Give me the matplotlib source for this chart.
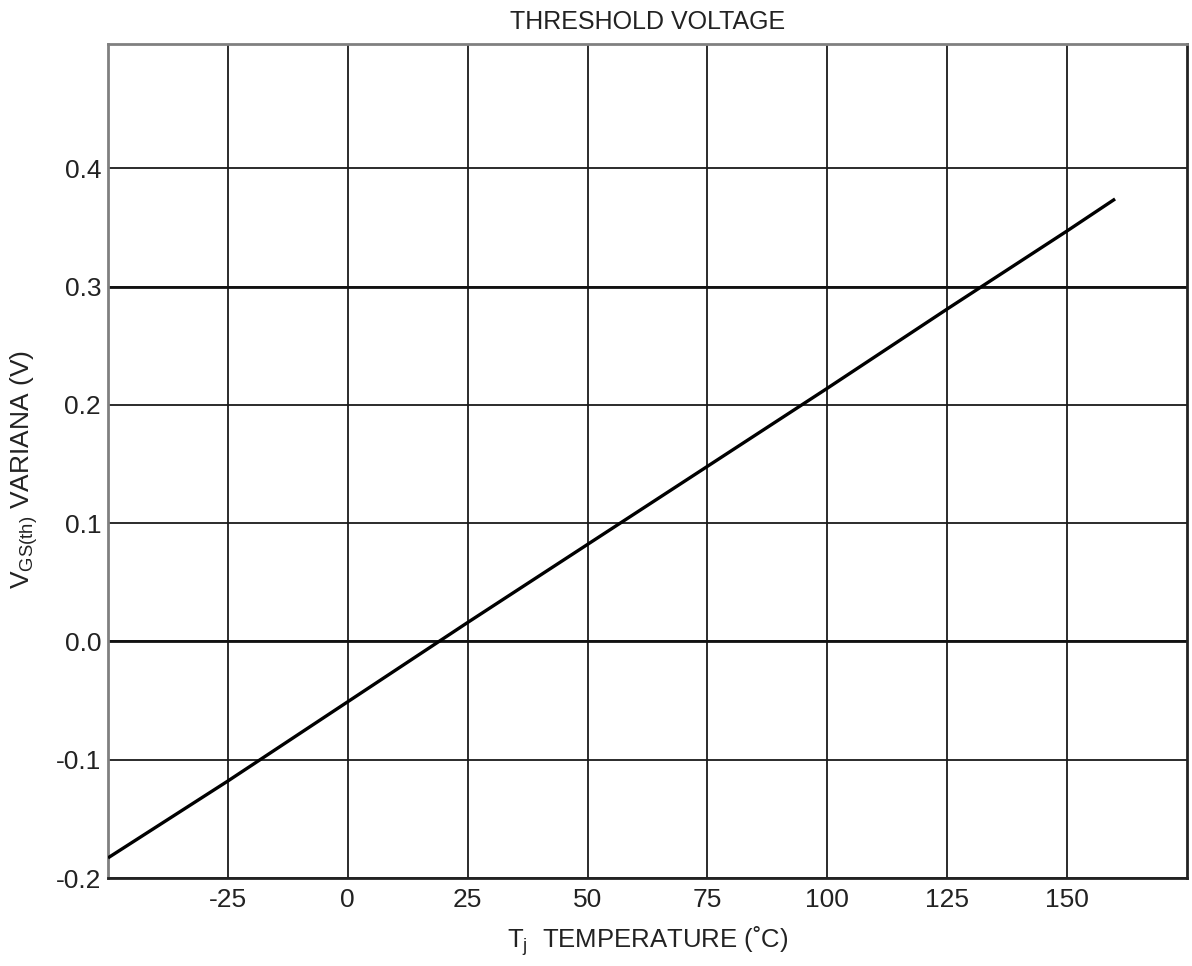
import matplotlib
matplotlib.use("Agg")
import matplotlib.pyplot as plt

plt.rcParams['font.family'] = ['Liberation Sans', 'DejaVu Sans']
plt.rcParams['mathtext.fontset'] = 'custom'
plt.rcParams['mathtext.rm'] = 'Liberation Sans'

# Datos
temperatura = [-50, -25, 0, 25, 50, 75, 100, 125, 150, 160]
vgs_var = [-0.183, -0.118, -0.051, 0.016, 0.082, 0.148, 0.214, 0.281, 0.347, 0.374]

xticks = [-25, 0, 25, 50, 75, 100, 125, 150]
xtick_labels = ['-25', '0', '25', '50', '75', '100', '125', '150']
yticks = [-0.2, -0.1, 0.0, 0.1, 0.2, 0.3, 0.4]
ytick_labels = ['-0.2', '-0.1', '0.0', '0.1', '0.2', '0.3', '0.4']

fig = plt.figure(figsize=(11.92, 9.66), dpi=100)
ax = fig.add_axes([108 / 1192, 1 - 878 / 966, (1187 - 108) / 1192, (878 - 44) / 966])

ax.plot(temperatura, vgs_var, color='black', lw=2.4, solid_capstyle='butt', zorder=3)

ax.set_xlim(-50, 175)
ax.set_ylim(-0.2, 0.505)
ax.set_xticks(xticks)
ax.set_xticklabels(xtick_labels)
ax.set_yticks(yticks)
ax.set_yticklabels(ytick_labels)
ax.tick_params(length=0, labelsize=19, colors='#222222')
ax.tick_params(axis='y', pad=5)
ax.tick_params(axis='x', pad=7)

ax.grid(True, color='#1a1a1a', lw=1.3)
for yy in [0.3, 0.0]:
    ax.axhline(yy, color='#111111', lw=2.0, zorder=2)
ax.set_axisbelow(True)

for s in ['top', 'left']:
    ax.spines[s].set_color('#808080')
    ax.spines[s].set_linewidth(2)
for s in ['bottom', 'right']:
    ax.spines[s].set_color('#222222')
    ax.spines[s].set_linewidth(2)

ax.set_title('THRESHOLD VOLTAGE', fontsize=18, color='#222222', pad=11)
ax.set_xlabel(r'T$_{\mathregular{j}}$  TEMPERATURE (˚C)', fontsize=18.5, color='#222222')
ax.xaxis.set_label_coords(0.5, -0.055)
ax.set_ylabel(r'V$_{\mathregular{GS(th)}}$ VARIANA (V)', fontsize=19, color='#222222')
ax.yaxis.set_label_coords(-0.063, 0.49)

fig.savefig('out.png', dpi=100, facecolor='white')
